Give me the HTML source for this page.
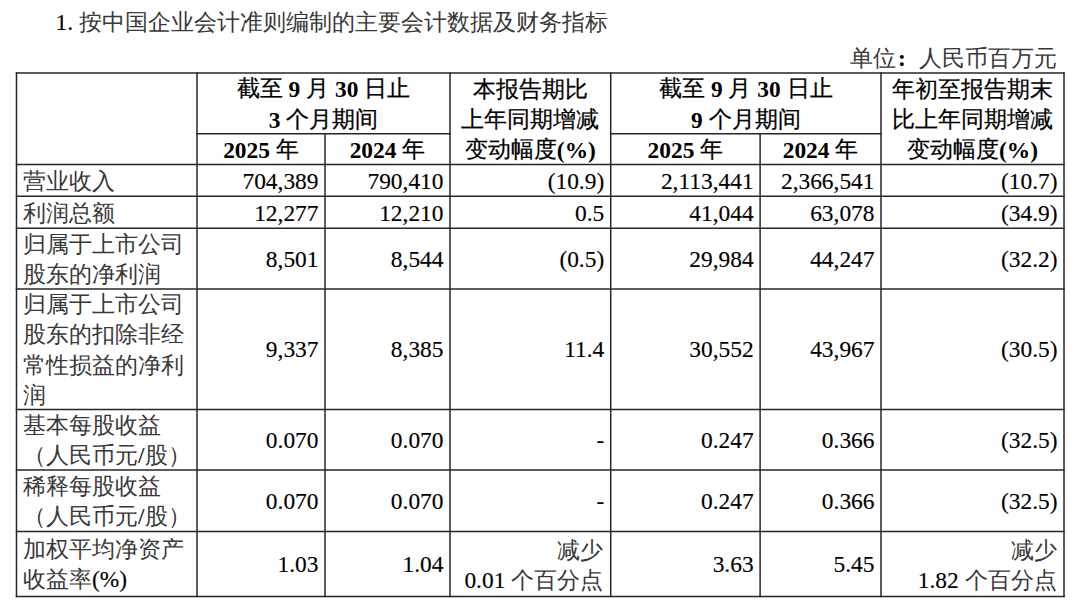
<!DOCTYPE html>
<html><head><meta charset="utf-8"><style>
html,body{margin:0;padding:0;background:#fff;width:1080px;height:604px;overflow:hidden}
body{position:relative;font-family:"Liberation Serif",serif;color:#000}
.t{text-spacing-trim:space-all;position:absolute;font-size:23.4px;line-height:30.4px;white-space:pre}
.b,b{font-weight:700} .b .c{font-weight:400;color:#000;-webkit-text-stroke:0.25px #000}
.c{font-size:23px;line-height:0;color:#383838;-webkit-text-stroke:0}
.t{-webkit-text-stroke:0.15px #000}
.h .c{color:#000;-webkit-text-stroke:0.2px #000}
.n{display:inline-block;transform:none;transform-origin:0 23.1px}
.b .n,b .n{-webkit-text-stroke:0;transform:translateY(1px)}
svg{position:absolute;left:0;top:0}
</style></head><body>
<div class="t" style="left:55.5px;top:6.6px">1. <span class="c">按中国企业会计准则编制的主要会计数据及财务指标</span></div>
<div class="t" style="right:23px;top:43px"><span class="c">单位</span><span style="display:inline-block;width:23px;padding-left:2px;box-sizing:border-box;font-weight:bold">:</span><span class="c">人民币百万元</span></div>
<svg width="1080" height="604" stroke="#262626" stroke-width="1.5" fill="none">
<line x1="15.75" y1="73.0" x2="1064.75" y2="73.0"/>
<line x1="196.25" y1="133.7" x2="450.75" y2="133.7"/>
<line x1="609.95" y1="133.7" x2="881.75" y2="133.7"/>
<line x1="15.75" y1="164.5" x2="1064.75" y2="164.5"/>
<line x1="15.75" y1="196.3" x2="1064.75" y2="196.3"/>
<line x1="15.75" y1="228.3" x2="1064.75" y2="228.3"/>
<line x1="15.75" y1="288.9" x2="1064.75" y2="288.9"/>
<line x1="15.75" y1="409.4" x2="1064.75" y2="409.4"/>
<line x1="15.75" y1="470.1" x2="1064.75" y2="470.1"/>
<line x1="15.75" y1="531.4" x2="1064.75" y2="531.4"/>
<line x1="15.75" y1="596.4" x2="1064.75" y2="596.4"/>
<line x1="16.5" y1="72.25" x2="16.5" y2="597.15"/>
<line x1="197.0" y1="72.25" x2="197.0" y2="597.15"/>
<line x1="450.0" y1="72.25" x2="450.0" y2="597.15"/>
<line x1="610.7" y1="72.25" x2="610.7" y2="597.15"/>
<line x1="881.0" y1="72.25" x2="881.0" y2="597.15"/>
<line x1="1064.0" y1="72.25" x2="1064.0" y2="597.15"/>
<line x1="325.0" y1="132.95" x2="325.0" y2="597.15"/>
<line x1="760.1" y1="132.95" x2="760.1" y2="597.15"/>
</svg>
<div class="t b" style="left:197.00px;width:253.00px;text-align:center;top:73.45px"><span class="c">截至</span><span class="n"> 9 </span><span class="c">月</span><span class="n"> 30 </span><span class="c">日止</span><br><span class="n">3 </span><span class="c">个月期间</span></div>
<div class="t b" style="left:197.00px;width:128.00px;text-align:center;top:134.40px"><span class="n">2025 </span><span class="c">年</span></div>
<div class="t b" style="left:325.00px;width:125.00px;text-align:center;top:134.40px"><span class="n">2024 </span><span class="c">年</span></div>
<div class="t h" style="left:450.00px;width:160.70px;text-align:center;top:73.65px"><span class="c">本报告期比</span><br><span class="c">上年同期增减</span><br><span class="c">变动幅度</span><b><span class="n">(%)</span></b></div>
<div class="t b" style="left:610.70px;width:270.30px;text-align:center;top:73.45px"><span class="c">截至</span><span class="n"> 9 </span><span class="c">月</span><span class="n"> 30 </span><span class="c">日止</span><br><span class="n">9 </span><span class="c">个月期间</span></div>
<div class="t b" style="left:610.70px;width:149.40px;text-align:center;top:134.40px"><span class="n">2025 </span><span class="c">年</span></div>
<div class="t b" style="left:760.10px;width:120.90px;text-align:center;top:134.40px"><span class="n">2024 </span><span class="c">年</span></div>
<div class="t h" style="left:881.00px;width:183.00px;text-align:center;top:73.65px"><span class="c">年初至报告期末</span><br><span class="c">比上年同期增减</span><br><span class="c">变动幅度</span><b><span class="n">(%)</span></b></div>
<div class="t" style="left:23.00px;text-align:left;top:165.70px"><span class="c">营业收入</span></div>
<div class="t" style="right:761.50px;text-align:right;top:165.70px"><span class="n">704,389</span></div>
<div class="t" style="right:636.50px;text-align:right;top:165.70px"><span class="n">790,410</span></div>
<div class="t" style="right:475.80px;text-align:right;top:165.70px"><span class="n">(10.9)</span></div>
<div class="t" style="right:326.40px;text-align:right;top:165.70px"><span class="n">2,113,441</span></div>
<div class="t" style="right:205.50px;text-align:right;top:165.70px"><span class="n">2,366,541</span></div>
<div class="t" style="right:22.50px;text-align:right;top:165.70px"><span class="n">(10.7)</span></div>
<div class="t" style="left:23.00px;text-align:left;top:197.60px"><span class="c">利润总额</span></div>
<div class="t" style="right:761.50px;text-align:right;top:197.60px"><span class="n">12,277</span></div>
<div class="t" style="right:636.50px;text-align:right;top:197.60px"><span class="n">12,210</span></div>
<div class="t" style="right:475.80px;text-align:right;top:197.60px"><span class="n">0.5</span></div>
<div class="t" style="right:326.40px;text-align:right;top:197.60px"><span class="n">41,044</span></div>
<div class="t" style="right:205.50px;text-align:right;top:197.60px"><span class="n">63,078</span></div>
<div class="t" style="right:22.50px;text-align:right;top:197.60px"><span class="n">(34.9)</span></div>
<div class="t" style="left:23.00px;text-align:left;top:228.70px"><span class="c">归属于上市公司</span><br><span class="c">股东的净利润</span></div>
<div class="t" style="right:761.50px;text-align:right;top:243.90px"><span class="n">8,501</span></div>
<div class="t" style="right:636.50px;text-align:right;top:243.90px"><span class="n">8,544</span></div>
<div class="t" style="right:475.80px;text-align:right;top:243.90px"><span class="n">(0.5)</span></div>
<div class="t" style="right:326.40px;text-align:right;top:243.90px"><span class="n">29,984</span></div>
<div class="t" style="right:205.50px;text-align:right;top:243.90px"><span class="n">44,247</span></div>
<div class="t" style="right:22.50px;text-align:right;top:243.90px"><span class="n">(32.2)</span></div>
<div class="t" style="left:23.00px;text-align:left;top:288.85px"><span class="c">归属于上市公司</span><br><span class="c">股东的扣除非经</span><br><span class="c">常性损益的净利</span><br><span class="c">润</span></div>
<div class="t" style="right:761.50px;text-align:right;top:334.45px"><span class="n">9,337</span></div>
<div class="t" style="right:636.50px;text-align:right;top:334.45px"><span class="n">8,385</span></div>
<div class="t" style="right:475.80px;text-align:right;top:334.45px"><span class="n">11.4</span></div>
<div class="t" style="right:326.40px;text-align:right;top:334.45px"><span class="n">30,552</span></div>
<div class="t" style="right:205.50px;text-align:right;top:334.45px"><span class="n">43,967</span></div>
<div class="t" style="right:22.50px;text-align:right;top:334.45px"><span class="n">(30.5)</span></div>
<div class="t" style="left:23.00px;text-align:left;top:409.85px"><span class="c">基本每股收益</span><br><span class="c">（人民币元</span><span class="n">/</span><span class="c">股）</span></div>
<div class="t" style="right:761.50px;text-align:right;top:425.05px"><span class="n">0.070</span></div>
<div class="t" style="right:636.50px;text-align:right;top:425.05px"><span class="n">0.070</span></div>
<div class="t" style="right:475.80px;text-align:right;top:425.05px"><span class="n">-</span></div>
<div class="t" style="right:326.40px;text-align:right;top:425.05px"><span class="n">0.247</span></div>
<div class="t" style="right:205.50px;text-align:right;top:425.05px"><span class="n">0.366</span></div>
<div class="t" style="right:22.50px;text-align:right;top:425.05px"><span class="n">(32.5)</span></div>
<div class="t" style="left:23.00px;text-align:left;top:470.85px"><span class="c">稀释每股收益</span><br><span class="c">（人民币元</span><span class="n">/</span><span class="c">股）</span></div>
<div class="t" style="right:761.50px;text-align:right;top:486.05px"><span class="n">0.070</span></div>
<div class="t" style="right:636.50px;text-align:right;top:486.05px"><span class="n">0.070</span></div>
<div class="t" style="right:475.80px;text-align:right;top:486.05px"><span class="n">-</span></div>
<div class="t" style="right:326.40px;text-align:right;top:486.05px"><span class="n">0.247</span></div>
<div class="t" style="right:205.50px;text-align:right;top:486.05px"><span class="n">0.366</span></div>
<div class="t" style="right:22.50px;text-align:right;top:486.05px"><span class="n">(32.5)</span></div>
<div class="t" style="left:23.00px;text-align:left;top:534.00px"><span class="c">加权平均净资产</span><br><span class="c">收益率</span><span class="n">(%)</span></div>
<div class="t" style="right:761.50px;text-align:right;top:549.20px"><span class="n">1.03</span></div>
<div class="t" style="right:636.50px;text-align:right;top:549.20px"><span class="n">1.04</span></div>
<div class="t" style="right:476.80px;text-align:right;top:534.80px"><span class="c">减少</span><br><span class="n">0.01 </span><span class="c">个百分点</span></div>
<div class="t" style="right:326.40px;text-align:right;top:549.20px"><span class="n">3.63</span></div>
<div class="t" style="right:205.50px;text-align:right;top:549.20px"><span class="n">5.45</span></div>
<div class="t" style="right:23.50px;text-align:right;top:534.80px"><span class="c">减少</span><br><span class="n">1.82 </span><span class="c">个百分点</span></div>
</body></html>
